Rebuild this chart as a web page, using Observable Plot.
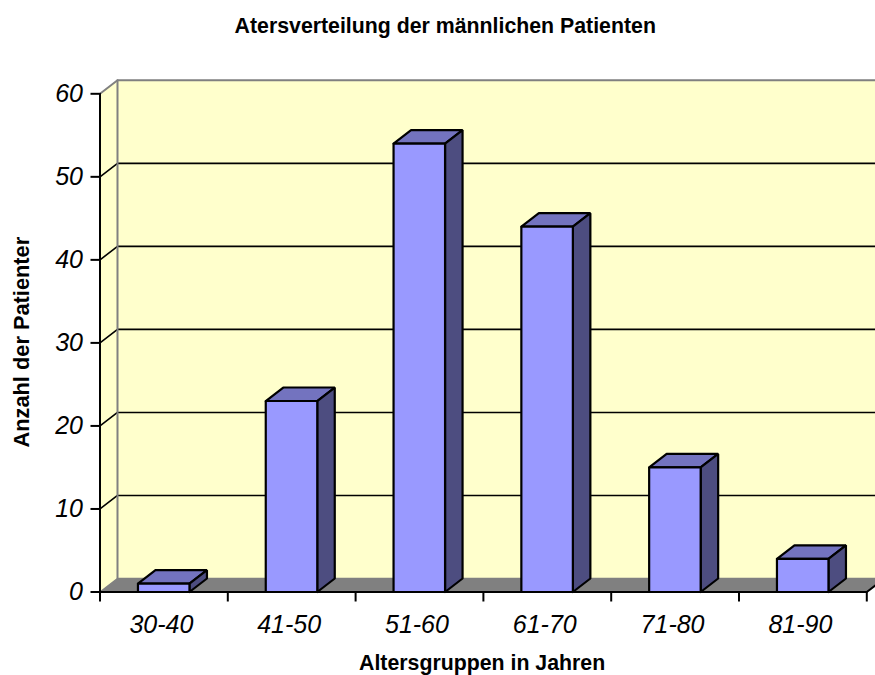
<!DOCTYPE html>
<html>
<head>
<meta charset="utf-8">
<script src="https://cdn.jsdelivr.net/npm/d3@7"></script>
<script src="https://cdn.jsdelivr.net/npm/@observablehq/plot@0.6"></script>
<style>
html,body{margin:0;padding:0;background:#fff;overflow:hidden}
svg{display:block}
</style>
</head>
<body>
<div id="chart"></div>
<script>
const categories = ["30-40","41-50","51-60","61-70","71-80","81-90"];
const values = [1,23,54,44,15,4];
const yTicks = [0,10,20,30,40,50,60];
const titleText = "Atersverteilung der männlichen Patienten";
const xTitle = "Altersgruppen in Jahren";
const yTitle = "Anzahl der Patienter";

const xUnit = 127.8, yUnit = 8.303;
const depthX = 17.5/xUnit, depthY = 13.5/yUnit;
const xEnd = 775.5/xUnit, yMax = 60;
const barL = 0.297, barR = 0.70;
const font = "Liberation Sans, Arial, sans-serif";

const poly = (pts, fill, stroke, strokeWidth=1) =>
  Plot.line(pts.map(([x,y])=>({x,y})), {x:"x",y:"y",fill,stroke,strokeWidth,curve:"linear",strokeLinejoin:"miter"});

const marks = [];
// walls
marks.push(poly([[0,0],[0,yMax],[depthX,yMax+depthY],[depthX,depthY],[0,0]],"#FFFFCC","none"));
marks.push(poly([[depthX,depthY],[depthX,yMax+depthY],[xEnd,yMax+depthY],[xEnd,depthY],[depthX,depthY]],"#FFFFCC","none"));
// floor
marks.push(poly([[0,0],[depthX,depthY],[xEnd,depthY],[xEnd,(xEnd-6)/depthX*depthY],[6,0],[0,0]],"#808080","none"));
// gridlines
for (const t of yTicks.slice(1,-1))
  marks.push(poly([[0,t],[depthX,t+depthY],[xEnd,t+depthY]],"none","#000",1.6));
// grey borders
marks.push(poly([[0,yMax],[depthX,yMax+depthY],[xEnd,yMax+depthY]],"none","#808080",2));
marks.push(poly([[depthX,yMax+depthY],[depthX,depthY]],"none","#808080",2));
marks.push(poly([[0,0],[depthX,depthY],[xEnd,depthY]],"none","#808080",1.5));
// axis lines
marks.push(poly([[0,0],[0,yMax]],"none","#000",2));
marks.push(poly([[0,0],[6,0],[xEnd,(xEnd-6)/depthX*depthY]],"none","#000",2));
marks.push(Plot.axisY({ticks:yTicks,tickSize:9,tickPadding:8,fontSize:25,fontStyle:"italic",fontFamily:font,label:null,stroke:"#000",strokeWidth:2,tickFormat:d=>d,color:"#000"}));
marks.push(Plot.axisX({ticks:d3.range(0,7),tickSize:10,tickFormat:()=>"",label:null,strokeWidth:2}));
// bars
values.forEach((v,i)=>{
  const l=i+barL, r=i+barR;
  marks.push(poly([[l,v],[l+depthX,v+depthY],[r+depthX,v+depthY],[r,v],[l,v]],"#7373BF","#000",2.2));
  marks.push(poly([[r,0],[r+depthX,depthY],[r+depthX,v+depthY],[r,v],[r,0]],"#4D4D80","#000",2.2));
  marks.push(poly([[l,0],[l,v],[r,v],[r,0],[l,0]],"#9999FF","#000",2.2));
});
// category labels
marks.push(Plot.text(categories,{x:(d,i)=>i+0.48,y:0,text:d=>d,dy:33,fontSize:25,fontStyle:"italic",fontFamily:font,fill:"#000",textAnchor:"middle"}));
// titles
marks.push(Plot.text([titleText],{frameAnchor:"top",textAnchor:"middle",dx:-42.5,dy:-62,fontSize:21.3,fontWeight:"bold",fontFamily:font,fill:"#000"}));
marks.push(Plot.text([xTitle],{x:2.99,y:0,dy:71,fontSize:21.3,fontWeight:"bold",fontFamily:font,fill:"#000"}));
marks.push(Plot.text([yTitle],{frameAnchor:"left",textAnchor:"middle",dx:-78,dy:6,rotate:-90,fontSize:21.8,fontWeight:"bold",fontFamily:font,fill:"#000"}));

const chart = Plot.plot({
  width:875,height:675,
  marginLeft:99.5,marginRight:0,marginTop:79.8,marginBottom:83.5,
  x:{type:"linear",domain:[0,xEnd],axis:null},
  y:{type:"linear",domain:[0,yMax+depthY],axis:null},
  style:{background:"#fff",overflow:"hidden"},
  marks
});
document.getElementById("chart").appendChild(chart);
</script>
</body>
</html>
